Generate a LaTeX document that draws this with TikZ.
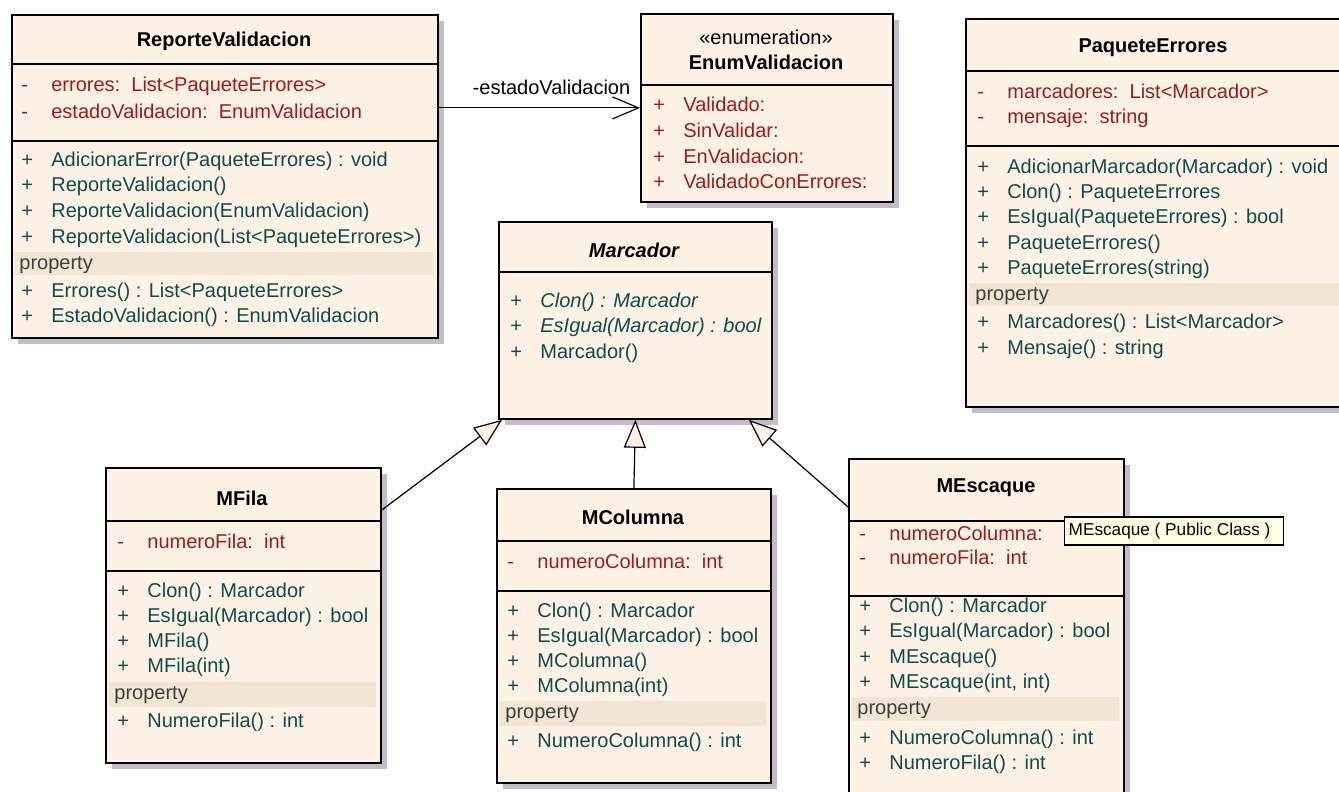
\documentclass[tikz,border=0pt]{standalone}
\usepackage{fontspec}
\setmainfont{Liberation Sans}
\usetikzlibrary{positioning,arrows.meta,shadows}
\definecolor{ClassFill}{RGB}{254,241,229}
\definecolor{PropBand}{RGB}{243,229,214}
\definecolor{AttrRed}{RGB}{160,28,28}
\definecolor{MethTeal}{RGB}{12,78,78}
\definecolor{PropGray}{RGB}{60,60,60}
\definecolor{ShadowGray}{RGB}{192,188,202}
\definecolor{TipYellow}{RGB}{255,255,226}
\newcommand{\umlvis}[1]{\makebox[15pt][l]{#1}}

\begin{document}
\begin{tikzpicture}[x=0.5pt,y=-0.5pt,font=\fontsize{10}{12}\selectfont,
	classbox/.style={draw,line width=0.9pt,fill=ClassFill,anchor=north west,inner sep=0pt,
		drop shadow={shadow xshift=3pt,shadow yshift=-3pt,fill=ShadowGray,opacity=1}},
	sepline/.style={line width=0.8pt},
	title/.style={font=\fontsize{10}{12}\selectfont\bfseries,inner sep=0pt},
	attr/.style={AttrRed,anchor=west,inner sep=0pt,yshift=-0.8pt},
	meth/.style={MethTeal,anchor=west,inner sep=0pt,yshift=-0.8pt},
	prop/.style={PropGray,anchor=west,inner sep=0pt,yshift=-0.5pt},
	assoc/.style={line width=0.6pt,-{Straight Barb[length=13pt,width=11pt]}},
	gen/.style={line width=0.6pt,-{Triangle[length=14pt,width=11pt,fill=ClassFill]}}]
	\clip (0,0) rectangle (1339,792);

	% ReporteValidacion
	\node[classbox,minimum width=213pt,minimum height=161.5pt] (rv) at (11,14) {};
	\draw[sepline] (11,64) -- (437,64);
	\draw[sepline] (11,141) -- (437,141);
	\fill[PropBand] (15,252) rectangle (433,275);
	\node[title] (rv-t) at (224,41) {ReporteValidacion};
	\node[attr] (rv-a1) at (21,85) {\umlvis{-}errores:\ \ List<PaqueteErrores>};
	\node[attr] (rv-a2) at (21,110) {\umlvis{-}estadoValidacion:\ \ EnumValidacion};
	\node[meth] (rv-m1) at (21,160) {\umlvis{+}AdicionarError(PaqueteErrores) : void};
	\node[meth] (rv-m2) at (21,185) {\umlvis{+}ReporteValidacion()};
	\node[meth] (rv-m3) at (21,211) {\umlvis{+}ReporteValidacion(EnumValidacion)};
	\node[meth] (rv-m4) at (21,237) {\umlvis{+}ReporteValidacion(List<PaqueteErrores>)};
	\node[prop] (rv-p) at (19,264) {property};
	\node[meth] (rv-p1) at (21,291) {\umlvis{+}Errores() : List<PaqueteErrores>};
	\node[meth] (rv-p2) at (21,316) {\umlvis{+}EstadoValidacion() : EnumValidacion};

	% EnumValidacion
	\node[classbox,minimum width=126pt,minimum height=94pt] (ev) at (640,13) {};
	\draw[sepline] (640,85) -- (892,85);
	\node[inner sep=0pt] (ev-s) at (766,37) {«enumeration»};
	\node[title] (ev-t) at (766,62) {EnumValidacion};
	\node[attr] (ev-a1) at (653,103) {\umlvis{+}Validado:};
	\node[attr] (ev-a2) at (653,129) {\umlvis{+}SinValidar:};
	\node[attr] (ev-a3) at (653,155) {\umlvis{+}EnValidacion:};
	\node[attr] (ev-a4) at (653,180) {\umlvis{+}ValidadoConErrores:};

	% PaqueteErrores
	\node[classbox,minimum width=190pt,minimum height=194pt] (pe) at (965,18) {};
	\draw[sepline] (965,71) -- (1345,71);
	\draw[sepline] (965,146) -- (1345,146);
	\fill[PropBand] (969,283) rectangle (1339,306);
	\node[title] (pe-t) at (1153,48) {PaqueteErrores};
	\node[attr] (pe-a1) at (977,90) {\umlvis{-}marcadores:\ \ List<Marcador>};
	\node[attr] (pe-a2) at (977,117) {\umlvis{-}mensaje:\ \ string};
	\node[meth] (pe-m1) at (977,167) {\umlvis{+}AdicionarMarcador(Marcador) : void};
	\node[meth] (pe-m2) at (977,192) {\umlvis{+}Clon() : PaqueteErrores};
	\node[meth] (pe-m3) at (977,217) {\umlvis{+}EsIgual(PaqueteErrores) : bool};
	\node[meth] (pe-m4) at (977,243) {\umlvis{+}PaqueteErrores()};
	\node[meth] (pe-m5) at (977,268) {\umlvis{+}PaqueteErrores(string)};
	\node[prop] (pe-p) at (975,295) {property};
	\node[meth] (pe-p1) at (977,322) {\umlvis{+}Marcadores() : List<Marcador>};
	\node[meth] (pe-p2) at (977,348) {\umlvis{+}Mensaje() : string};

	% Marcador
	\node[classbox,minimum width=136.5pt,minimum height=98.5pt] (mc) at (498,221) {};
	\draw[sepline] (498,272) -- (771,272);
	\node[title,font=\fontsize{10}{12}\selectfont\bfseries\itshape] (mc-t) at (634,250) {Marcador};
	\node[meth] (mc-m1) at (510,301) {\umlvis{+}\textit{Clon() : Marcador}};
	\node[meth] (mc-m2) at (510,326) {\umlvis{+}\textit{EsIgual(Marcador) : bool}};
	\node[meth] (mc-m3) at (510,352) {\umlvis{+}Marcador()};

	% MFila
	\node[classbox,minimum width=137.5pt,minimum height=147.5pt] (mf) at (105,467) {};
	\draw[sepline] (105,521) -- (380,521);
	\draw[sepline] (105,571) -- (380,571);
	\fill[PropBand] (109,682) rectangle (376,707);
	\node[title] (mf-t) at (242,498) {MFila};
	\node[attr] (mf-a1) at (117,540) {\umlvis{-}numeroFila:\ \ int};
	\node[meth] (mf-m1) at (117,591) {\umlvis{+}Clon() : Marcador};
	\node[meth] (mf-m2) at (117,616) {\umlvis{+}EsIgual(Marcador) : bool};
	\node[meth] (mf-m3) at (117,641) {\umlvis{+}MFila()};
	\node[meth] (mf-m4) at (117,666) {\umlvis{+}MFila(int)};
	\node[prop] (mf-p) at (114,694) {property};
	\node[meth] (mf-p1) at (117,721) {\umlvis{+}NumeroFila() : int};

	% MColumna
	\node[classbox,minimum width=137pt,minimum height=147pt] (mco) at (496,488) {};
	\draw[sepline] (496,541) -- (770,541);
	\draw[sepline] (496,591) -- (770,591);
	\fill[PropBand] (500,701) rectangle (766,726);
	\node[title] (mco-t) at (633,517) {MColumna};
	\node[attr] (mco-a1) at (507,560) {\umlvis{-}numeroColumna:\ \ int};
	\node[meth] (mco-m1) at (507,611) {\umlvis{+}Clon() : Marcador};
	\node[meth] (mco-m2) at (507,636) {\umlvis{+}EsIgual(Marcador) : bool};
	\node[meth] (mco-m3) at (507,661) {\umlvis{+}MColumna()};
	\node[meth] (mco-m4) at (507,686) {\umlvis{+}MColumna(int)};
	\node[prop] (mco-p) at (505,713) {property};
	\node[meth] (mco-p1) at (507,741) {\umlvis{+}NumeroColumna() : int};

	% MEscaque
	\node[classbox,minimum width=137.5pt,minimum height=171pt] (me) at (848,458) {};
	\draw[sepline] (848,521) -- (1123,521);
	\draw[sepline] (848,596) -- (1123,596);
	\fill[PropBand] (852,697) rectangle (1119,721);
	\node[title] (me-t) at (986,488) {MEscaque};
	\node[attr] (me-a1) at (859,532) {\umlvis{-}numeroColumna:};
	\node[attr] (me-a2) at (859,556) {\umlvis{-}numeroFila:\ \ int};
	\node[meth] (me-m1) at (859,606) {\umlvis{+}Clon() : Marcador};
	\node[meth] (me-m2) at (859,631) {\umlvis{+}EsIgual(Marcador) : bool};
	\node[meth] (me-m3) at (859,657) {\umlvis{+}MEscaque()};
	\node[meth] (me-m4) at (859,682) {\umlvis{+}MEscaque(int, int)};
	\node[prop] (me-p) at (857,709) {property};
	\node[meth] (me-p1) at (859,738) {\umlvis{+}NumeroColumna() : int};
	\node[meth] (me-p2) at (859,763) {\umlvis{+}NumeroFila() : int};

	% tooltip
	\node[draw,line width=0.7pt,fill=TipYellow,anchor=west,inner xsep=2pt,inner ysep=0pt,
		minimum height=14pt,font=\fontsize{8.6}{10}\selectfont] (tip) at (1064,531)
		{\makebox[105.5pt][l]{MEscaque ( Public Class )}};

	% relations
	\draw[assoc] (rv.east |- ev.west) -- node[above=3pt,pos=0.56] (lbl) {-estadoValidacion} (ev.west);
	\draw[gen] ([yshift=-21.5pt]mf.north east) -- ([xshift=2pt]mc.south west);
	\draw[gen] (mco.north) -- (mc.south);
	\draw[gen] ([yshift=-24.5pt]me.north west) -- ([xshift=-12pt]mc.south east);
\end{tikzpicture}
\end{document}
